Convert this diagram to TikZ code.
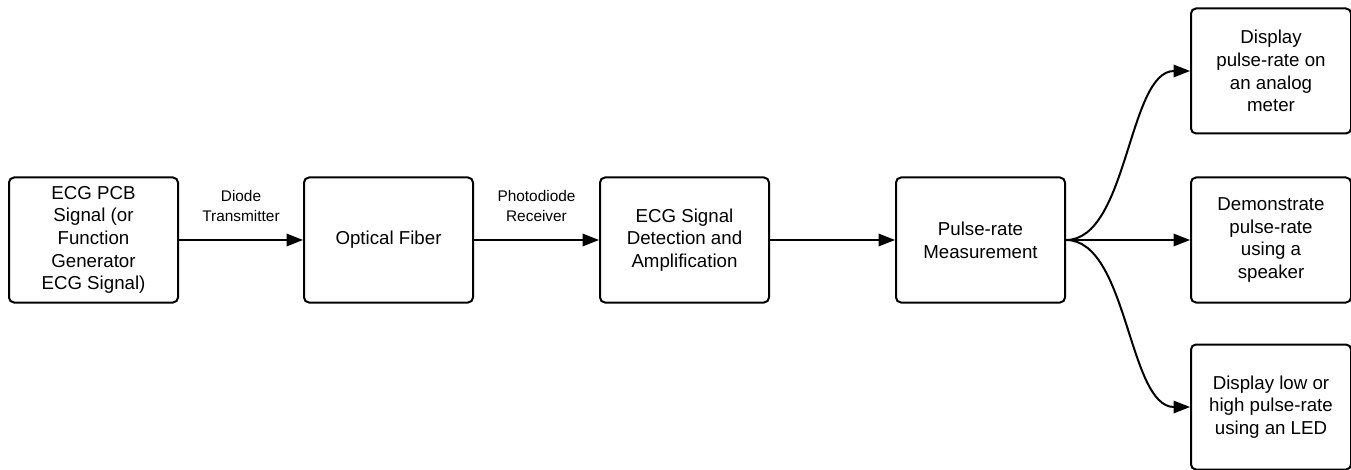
\documentclass[tikz,border=0pt]{standalone}
\usepackage{fontspec}
\setmainfont{Liberation Sans}
\usetikzlibrary{arrows.meta}
\begin{document}
\begin{tikzpicture}[x=1pt,y=-1pt,
  blk/.style={draw=black,line width=2pt,rounded corners=5pt,minimum width=169pt,minimum height=125pt,align=center,inner sep=0pt,
    font=\fontsize{18.7}{22.7}\selectfont},
  outblk/.style={blk,minimum width=160pt},
  lbl/.style={align=center,inner sep=0pt,font=\fontsize{15.4}{20}\selectfont},
  conn/.style={line width=2pt,-{Triangle[length=16.5pt,width=12.5pt]}}]
\useasboundingbox (0,0) rectangle (1351,470);
\node[blk] (src) at (93.5,240) {ECG PCB\\Signal (or\\Function\\Generator\\ECG Signal)};
\node[blk] (fib) at (388.5,240) {Optical Fiber};
\node[blk] (det) at (684.5,240) {ECG Signal\\Detection and\\Amplification};
\node[blk] (pul) at (980.5,240) {Pulse-rate\\Measurement};
\node[outblk] (met) at (1271,71) {Display\\pulse-rate on\\an analog\\meter};
\node[outblk] (spk) at (1271,240) {Demonstrate\\pulse-rate\\using a\\speaker};
\node[outblk] (led) at (1271,407) {Display low or\\high pulse-rate\\using an LED};
\draw[conn] (src) -- node[lbl,above=17pt] (l1) {Diode\\Transmitter} (fib);
\draw[conn] (fib) -- node[lbl,above=17pt] (l2) {Photodiode\\Receiver} (det);
\draw[conn] (det) -- (pul);
\coordinate (fan) at (pul.east);
\draw[conn] (fan) .. controls (1128,240) and (1128,71) .. (met.west);
\draw[conn] (fan) -- (spk.west);
\draw[conn] (fan) .. controls (1128,240) and (1128,407) .. (led.west);
\end{tikzpicture}
\end{document}
